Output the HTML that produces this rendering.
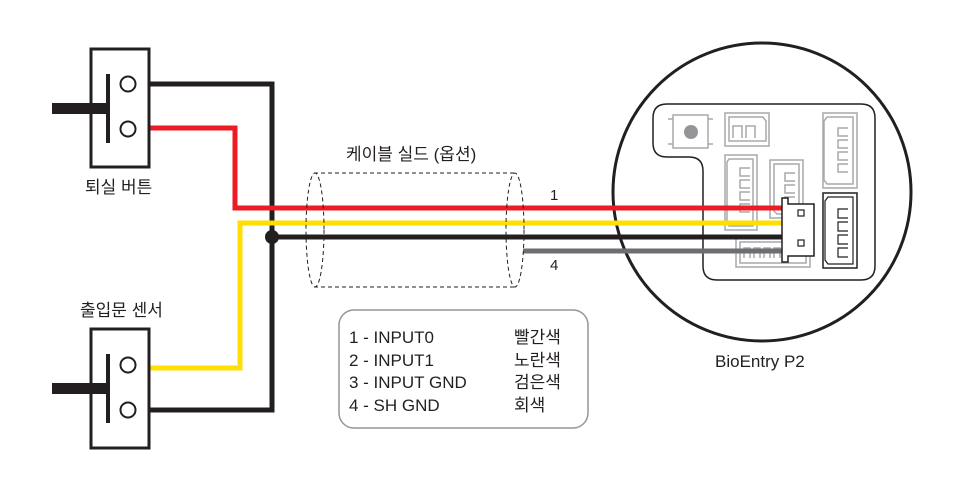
<!DOCTYPE html>
<html><head><meta charset="utf-8"><style>
html,body{margin:0;padding:0;background:#fff;}
svg{display:block;}
text{font-family:"Liberation Sans","Noto Sans CJK KR",sans-serif;fill:#231f20;}
</style></head><body>
<svg width="958" height="492" viewBox="0 0 958 492" xmlns="http://www.w3.org/2000/svg">
<!-- BioEntry circle -->
<circle cx="762" cy="192" r="149" fill="none" stroke="#231f20" stroke-width="3"/>
<!-- board -->
<path d="M667,104 H861 Q875,104 875,118 V266 Q875,280 861,280 H717 Q703,280 703,266 V171 Q703,157 689,157 H667 Q653,157 653,143 V118 Q653,104 667,104 Z" fill="#fff" stroke="#231f20" stroke-width="1.5"/>
<g fill="none" stroke="#a7a9ac" stroke-width="1.5">
<rect x="673" y="115" width="35" height="33"/>
<path d="M668,119 h5 M668,144 h5 M708,119 h5 M708,144 h5"/>
<rect x="725" y="113" width="44" height="33"/>
<path d="M729,117 h34 l3,4 v20 h-37 z"/>
<path d="M733,138 v-12 h9 v12 M746,138 v-12 h9 v12"/>
<rect x="823" y="113" width="34" height="75"/>
<path d="M827,117 h26 v67 h-26 l-3,-4 v-59 z"/>
<path d="M848,128 h-10 v8 h10 M848,140 h-10 v8 h10 M848,152 h-10 v8 h10 M848,164 h-10 v8 h10"/>
<rect x="725" y="155" width="32" height="75"/>
<path d="M729,159 h24 v67 h-24 l-2,-3 v-61 z"/>
<path d="M750,168 h-10 v8 h10 M750,180 h-10 v8 h10 M750,192 h-10 v8 h10 M750,204 h-10 v8 h10"/>
<rect x="770" y="160" width="33" height="58"/>
<path d="M774,164 h25 v50 h-22 l-3,-3 z"/>
<path d="M795,173 h-10 v8 h10 M795,185 h-10 v8 h10 M795,197 h-10 v8 h10"/>
<rect x="736" y="238" width="74" height="29"/>
<path d="M740,242 h66 v21 h-66 z"/>
<path d="M744,258 v-10 h6 v10 M754,258 v-10 h6 v10 M764,258 v-10 h6 v10 M774,258 v-10 h6 v10"/>
</g>
<!-- boxed connector -->
<rect x="823" y="193" width="34" height="75" fill="#fff" stroke="#231f20" stroke-width="1.5"/>
<path d="M828,197 h25 v67 h-25 l-3,-4 v-59 z" fill="none" stroke="#231f20" stroke-width="1.2"/>
<path d="M848,209 h-10 v9 h10 M848,222 h-10 v9 h10 M848,235 h-10 v9 h10 M848,248 h-10 v9 h10" fill="none" stroke="#231f20" stroke-width="1.2"/>
<!-- wires -->
<g fill="none" stroke-width="5" stroke-linejoin="miter">
<polyline points="149,84 272,84 272,410 149,410" stroke="#231f20"/>
<polyline points="149,128 235,128 235,208 785,208" stroke="#ed1c24"/>
<polyline points="149,368 240,368 240,223 785,223" stroke="#ffde00"/>
<line x1="272" y1="237" x2="785" y2="237" stroke="#231f20"/>
<line x1="523" y1="251" x2="785" y2="251" stroke="#6d6e71"/>
</g>
<circle cx="272" cy="237" r="7" fill="#231f20"/>
<!-- housing -->
<path d="M782,198 h6 v6 h26 v52 h-26 v6 h-6 z" fill="#fff" stroke="#231f20" stroke-width="1.5"/>
<rect x="798" y="210" width="6" height="6" fill="none" stroke="#231f20" stroke-width="1.2"/>
<rect x="798" y="240" width="6" height="6" fill="none" stroke="#231f20" stroke-width="1.2"/>
<circle cx="691" cy="132" r="7" fill="#939598"/>
<!-- cylinder -->
<g fill="none" stroke="#231f20" stroke-width="1" stroke-dasharray="4,3">
<path d="M314,173 H515 M314,287 H515"/>
<ellipse cx="315" cy="230" rx="9" ry="57"/>
<ellipse cx="515" cy="230" rx="9" ry="57"/>
</g>
<text x="346" y="160" font-size="17">케이블 실드 (옵션)</text>
<text x="550" y="200" font-size="15">1</text>
<text x="550" y="270" font-size="15">4</text>
<!-- switches -->
<g fill="#fff" stroke="#231f20" stroke-width="3">
<rect x="91" y="49" width="58" height="118"/>
<rect x="91" y="329" width="58" height="119"/>
<circle cx="128" cy="84" r="7.5" stroke-width="2"/>
<circle cx="128" cy="129" r="7.5" stroke-width="2"/>
<circle cx="128" cy="365" r="7.5" stroke-width="2"/>
<circle cx="128" cy="410" r="7.5" stroke-width="2"/>
</g>
<rect x="52" y="103" width="56" height="11" fill="#231f20"/>
<rect x="106" y="74" width="4" height="69" fill="#231f20"/>
<rect x="52" y="383" width="56" height="11" fill="#231f20"/>
<rect x="106" y="354" width="4" height="69" fill="#231f20"/>
<text x="85" y="193" font-size="17">퇴실 버튼</text>
<text x="80" y="316" font-size="17">출입문 센서</text>
<!-- legend -->
<rect x="339" y="310" width="249" height="118" rx="15" fill="none" stroke="#939598" stroke-width="1.5"/>
<g font-size="17">
<text x="349" y="343">1 - INPUT0</text>
<text x="349" y="366">2 - INPUT1</text>
<text x="349" y="388">3 - INPUT GND</text>
<text x="349" y="411">4 - SH GND</text>
<text x="514" y="343">빨간색</text>
<text x="514" y="366">노란색</text>
<text x="514" y="388">검은색</text>
<text x="514" y="411">회색</text>
</g>
<text x="715" y="367" font-size="17">BioEntry P2</text>
</svg>
</body></html>
